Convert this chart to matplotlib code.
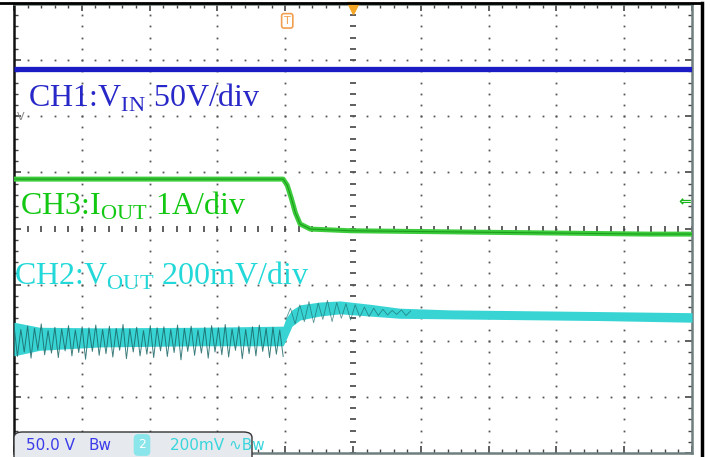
import numpy as np
import matplotlib
matplotlib.use("Agg")
import matplotlib.pyplot as plt
from matplotlib.lines import Line2D
from matplotlib.patches import FancyBboxPatch

plt.rcParams["font.family"] = ["Liberation Serif", "DejaVu Serif"]
plt.rcParams["mathtext.fontset"] = "custom"
plt.rcParams["mathtext.rm"] = "Liberation Serif"

# --- datos (en divisiones de pantalla: x 0..10, y -4..4) ---
ch1_x = [0.0, 10.0]
ch1_y = [2.84, 2.84]

ch3_x = [0.0, 1.27, 2.74, 3.97, 4.03, 4.09, 4.15, 4.22, 4.37, 4.96, 6.43, 7.90, 9.38, 10.0]
ch3_y = [0.88, 0.88, 0.88, 0.88, 0.77, 0.54, 0.28, 0.08, -0.01, -0.04, -0.06, -0.08, -0.10, -0.10]

# envolvente de CH2
ch2_env_x = [0.0, 0.38, 1.27, 2.74, 3.97, 4.01, 4.10, 4.22, 4.51, 4.81, 5.25, 5.69, 6.43, 7.17, 8.64, 10.0]
ch2_up = [-1.67, -1.76, -1.77, -1.76, -1.74, -1.60, -1.45, -1.36, -1.31, -1.29, -1.35, -1.42, -1.45, -1.46, -1.48, -1.50]
ch2_lo = [-2.27, -2.17, -2.11, -2.09, -2.09, -1.99, -1.74, -1.63, -1.56, -1.52, -1.56, -1.60, -1.61, -1.62, -1.64, -1.67]

# rizado de CH2 antes y después del escalón
ch2_pre = [-1.72, -2.28, -1.80, -2.20, -1.74, -2.31, -1.78, -2.16, -1.70, -2.25,
           -1.82, -2.22, -1.76, -2.30, -1.79, -2.18, -1.73, -2.27, -1.81, -2.21,
           -1.75, -2.33, -1.77, -2.19, -1.72, -2.26, -1.80, -2.23, -1.74, -2.29,
           -1.78, -2.17, -1.71, -2.32, -1.79, -2.20, -1.76, -2.27, -1.82, -2.24,
           -1.73, -2.30, -1.77, -2.18, -1.75, -2.28, -1.80, -2.21, -1.72, -2.34,
           -1.78, -2.19, -1.74, -2.26, -1.81, -2.22, -1.76, -2.31, -1.73, -2.20,
           -1.77, -2.25, -1.71, -2.29, -1.79, -2.17, -1.74, -2.32, -1.80, -2.23,
           -1.75, -2.27, -1.72, -2.19, -1.78, -2.30, -1.76, -2.24, -1.81, -2.28]
ch2_post = [-1.62, -1.42, -1.70, -1.36, -1.66, -1.30, -1.68, -1.33, -1.62, -1.28,
            -1.66, -1.32, -1.60, -1.34, -1.63, -1.36, -1.58, -1.40, -1.57, -1.42,
            -1.55, -1.44, -1.54, -1.46, -1.53, -1.45, -1.55, -1.47]

W, H = 710, 457
fig = plt.figure(figsize=(W / 100, H / 100), dpi=100)
ax = fig.add_axes([14 / W, 4 / H, 678 / W, 449 / H])
ax.set_xlim(0, 10)
ax.set_ylim(-4, 4)

# retícula del osciloscopio
minor = np.arange(-4, 4.01, 0.2)
minor_x = np.arange(0, 10.01, 0.2)
for gx in range(1, 10):
    if gx == 5:
        ax.plot([gx] * len(minor), minor, ls="none", marker="_", ms=5, mew=1.2, color="#444444", zorder=1)
    else:
        ax.plot([gx] * len(minor), minor, ls="none", marker="s", ms=1.3, mew=0, color="#555555", zorder=1)
for gy in range(-3, 4):
    if gy == 0:
        ax.plot(minor_x, [gy] * len(minor_x), ls="none", marker="|", ms=5, mew=1.2, color="#444444", zorder=1)
    else:
        ax.plot(minor_x, [gy] * len(minor_x), ls="none", marker="s", ms=1.3, mew=0, color="#555555", zorder=1)

ax.set_xticks(range(0, 11))
ax.set_yticks(range(-4, 5))
ax.set_xticks(minor_x, minor=True)
ax.set_yticks(minor, minor=True)
ax.tick_params(which="both", direction="in", top=True, right=True,
               labelbottom=False, labelleft=False, color="#444444")
ax.tick_params(which="major", length=5, width=1.2)
ax.tick_params(which="minor", length=3, width=1.0)
for s in ax.spines.values():
    s.set_color("#6f7f7f")
    s.set_linewidth(1.8)
ax.spines["left"].set_color("#111111")

# trazas
ax.plot(ch1_x, ch1_y, color="#1c1cc4", lw=3.8, solid_capstyle="butt", zorder=5)

ax.plot(ch3_x, ch3_y, color="#3ccc3c", lw=3.6, solid_capstyle="butt", zorder=4)
ax.plot(ch3_x, ch3_y, color="#1c9c1c", lw=0.8, solid_capstyle="butt", zorder=4)

ax.fill_between(ch2_env_x, ch2_lo, ch2_up, color="#38d4d4", lw=0, zorder=3)
ax.plot(np.linspace(0, 3.97, len(ch2_pre)), ch2_pre, color="#1d6767", lw=0.7, alpha=0.85, zorder=3)
ax.plot(np.linspace(4.01, 5.85, len(ch2_post)), ch2_post, color="#1d6767", lw=0.6, alpha=0.7, zorder=3)

# marcadores
ax.text(4.03, 3.70, "T", color="#f0a050", fontsize=8, ha="center", va="center",
        family="DejaVu Sans", bbox=dict(boxstyle="round,pad=0.2", fc="white", ec="#f0a050", lw=1.2), zorder=6)
ax.plot([5.0], [3.93], marker="v", ms=8, color="#f5a623", ls="none", clip_on=False, zorder=6)
ax.text(0.05, 1.98, "V", color="#888888", fontsize=8, family="DejaVu Sans", va="center", zorder=6)
ax.text(9.98, 0.47, "\u21d0", color="#19b419", fontsize=11, family="DejaVu Sans",
        ha="right", va="center", fontweight="bold", zorder=6)

# etiquetas de canal
ax.text(0.021, 0.771, r"CH1:V$_{\mathrm{IN}}$ 50V/div", transform=ax.transAxes,
        color="#2828c8", fontsize=23, va="baseline", zorder=7)
ax.text(0.009, 0.53, r"CH3:I$_{\mathrm{OUT}}$ 1A/div", transform=ax.transAxes,
        color="#12c812", fontsize=23, va="baseline", zorder=7)
ax.text(0.0, 0.374, r"CH2:V$_{\mathrm{OUT}}$ 200mV/div", transform=ax.transAxes,
        color="#22d8d8", fontsize=23, va="baseline", zorder=7)

# marco exterior
fig.add_artist(Line2D([0, 702 / W], [1 - 3 / H, 1 - 3 / H], color="black", lw=2))
fig.add_artist(Line2D([702 / W, 702 / W], [0, 1 - 3 / H], color="black", lw=2.5))

# barra de estado
fig.add_artist(FancyBboxPatch((14 / W, -0.02), 238 / W, 25 / H + 0.02,
                              boxstyle="round,pad=0,rounding_size=0.012",
                              fc="#e6eaee", ec="#333333", lw=1, zorder=10))
sfam = ["Liberation Sans Narrow", "DejaVu Sans"]
fig.text(26 / W, 12 / H, "50.0 V", color="#3b3bea", fontsize=11, family=sfam, va="center", zorder=11)
fig.text(88 / W, 12 / H, "Bw", color="#3b3bea", fontsize=11, family=sfam, va="center", zorder=11)
fig.text(142 / W, 12 / H, "2", color="white", fontsize=9, family=sfam, va="center", ha="center", zorder=12,
         bbox=dict(boxstyle="round,pad=0.35", fc="#8ae6ea", ec="none"))
fig.text(170 / W, 12 / H, "200mV \u223fBw", color="#38d6dc", fontsize=11, family=sfam, va="center", zorder=11)

fig.savefig("out.png", dpi=100)
